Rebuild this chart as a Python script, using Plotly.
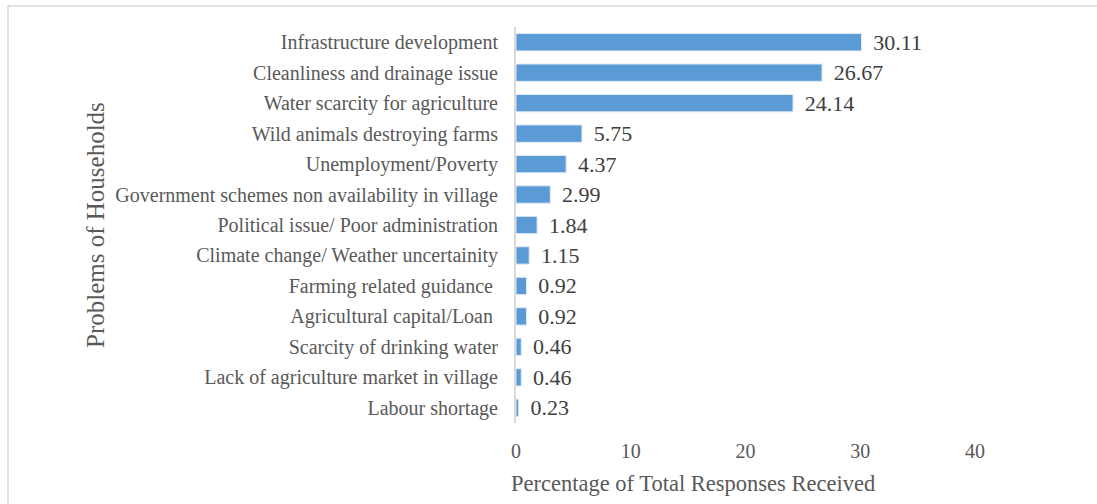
import plotly.graph_objects as go

# categories listed top to bottom as in the chart
problems = [
    "Infrastructure development",
    "Cleanliness and drainage issue",
    "Water scarcity for agriculture",
    "Wild animals destroying farms",
    "Unemployment/Poverty",
    "Government schemes non availability in village",
    "Political issue/ Poor administration",
    "Climate change/ Weather uncertainity",
    "Farming related guidance\u00a0",
    "Agricultural capital/Loan\u00a0",
    "Scarcity of drinking water",
    "Lack of agriculture market in village",
    "Labour shortage",
]
percentages = [30.11, 26.67, 24.14, 5.75, 4.37, 2.99, 1.84, 1.15, 0.92, 0.92, 0.46, 0.46, 0.23]
x_ticks = [0, 10, 20, 30, 40]

W, H = 1097, 504
L, R, T, B = 516, 122, 27, 81
pw, ph = W - L - R, H - T - B

serif = "Liberation Serif, Times New Roman, serif"

fig = go.Figure()
fig.add_trace(go.Bar(
    x=percentages,
    y=problems,
    orientation="h",
    marker=dict(color="#5B9BD5", line=dict(color="#DEEBF7", width=1)),
    text=percentages,
    texttemplate="\u2009\u2009%{x:.2f}",
    textposition="outside",
    constraintext="none",
    cliponaxis=False,
    textfont=dict(family=serif, size=22, color="#404040"),
))

fig.update_layout(
    width=W, height=H,
    margin=dict(l=L, r=R, t=T, b=B, pad=0),
    paper_bgcolor="white",
    plot_bgcolor="white",
    showlegend=False,
    bargap=0.43,
    font=dict(family=serif, color="#595959"),
)

# x axis, no gridlines, labels only
fig.update_xaxes(
    range=[0, 40],
    tickvals=x_ticks,
    showgrid=False,
    zeroline=False,
    showline=False,
    ticks="",
    tickfont=dict(family=serif, size=20, color="#595959"),
    ticklabelstandoff=14,
)

# category axis, first item on top
fig.update_yaxes(
    autorange="reversed",
    showgrid=False,
    showline=True,
    linecolor="#D9D9D9",
    linewidth=2,
    ticks="",
    tickfont=dict(family=serif, size=20, color="#595959"),
    ticklabelstandoff=12,
)

# axis titles as annotations to match their placement
fig.add_annotation(
    text="Percentage of Total Responses Received",
    xref="paper", yref="paper",
    x=(693 - L) / pw, y=(H - B - 483) / ph,
    xanchor="center", yanchor="middle",
    showarrow=False,
    font=dict(family=serif, size=22.5, color="#595959"),
)
fig.add_annotation(
    text="Problems of Households",
    xref="paper", yref="paper",
    x=(95 - L) / pw, y=0.5,
    xanchor="center", yanchor="middle",
    textangle=-90,
    showarrow=False,
    font=dict(family=serif, size=25, color="#595959"),
)

# light outer frame
fig.add_shape(
    type="rect",
    xref="paper", yref="paper",
    x0=(8 - L) / pw, x1=(W + 5 - L) / pw,
    y0=(H - B - (H + 5)) / ph, y1=(H - B - 6) / ph,
    line=dict(color="#D9D9D9", width=1.5),
    fillcolor="rgba(0,0,0,0)",
    layer="below",
)

# drop the page's default body margin so the figure sits at the window corner
fig.write_html(
    "out.html",
    config={"displayModeBar": False},
    post_script="document.body.style.margin='0';",
)
